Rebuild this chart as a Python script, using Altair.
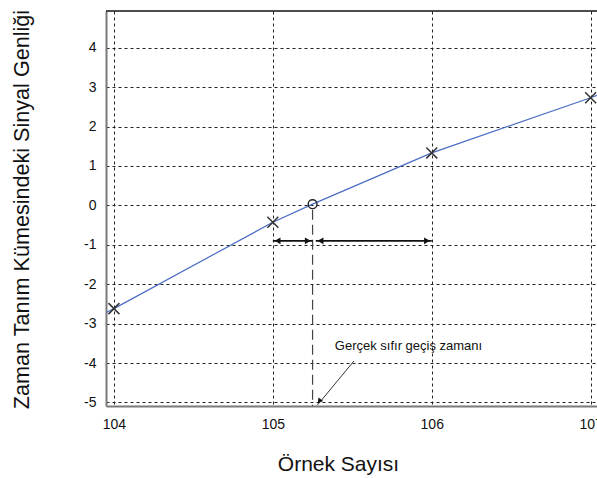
import altair as alt
import pandas as pd

# Sampled amplitudes at integer sample numbers
sample_idx = [104, 105, 106, 107]
sample_amp = [-2.62, -0.43, 1.33, 2.73]

# Continuous signal trace running through the samples to the frame edges
trace_x = [103.95, 104.0, 105.0, 105.25, 106.0, 107.0, 107.04]
trace_y = [-2.72, -2.62, -0.43, 0.03, 1.33, 2.73, 2.79]

# Estimated true zero crossing
zero_x = [105.25]
zero_y = [0.03]

# Double-headed distance arrows below the crossing
span_y = -0.90
span_start = [105.0, 105.27]
span_end = [105.25, 106.0]

# Annotation
note_text = ["Gerçek sıfır geçiş zamanı"]
note_x = [105.39]
note_y = [-3.57]
pointer_from = (105.51, -3.95)
pointer_to = (105.28, -5.07)

x_ticks = [104, 105, 106, 107]
y_ticks = [-5, -4, -3, -2, -1, 0, 1, 2, 3, 4]

X_DOM = [103.95, 107.04]
Y_DOM = [-5.09, 4.93]
FONT = "Liberation Sans"
W, H = 491, 395

xs = alt.Scale(domain=X_DOM, nice=False, zero=False)
ys = alt.Scale(domain=Y_DOM, nice=False, zero=False)

X = alt.X(
    "x:Q", scale=xs, title="Örnek Sayısı",
    axis=alt.Axis(values=x_ticks, labelExpr="'' + datum.value",
                  titleX=232, titleY=64, titleBaseline="alphabetic", titleFontSize=21),
)
Y = alt.Y(
    "y:Q", scale=ys, title="Zaman Tanım Kümesindeki Sinyal Genliği",
    axis=alt.Axis(values=y_ticks, labelExpr="'' + datum.value",
                  titleX=-84, titleY=198, titleBaseline="middle", titleFontSize=21.6),
)

trace_df = pd.DataFrame({"x": trace_x, "y": trace_y})
samples_df = pd.DataFrame({"x": sample_idx, "y": sample_amp})
zero_df = pd.DataFrame({"x": zero_x, "y": zero_y})

trace = alt.Chart(trace_df).mark_line(color="#4a6cc4", strokeWidth=1.2, clip=True).encode(
    x=X, y=Y
)

samples = alt.Chart(samples_df).mark_point(
    shape="M-1,-1L1,1M1,-1L-1,1", size=120, filled=False, color="#333333",
    strokeWidth=1.5, opacity=1, clip=True
).encode(x="x:Q", y="y:Q")

zero = alt.Chart(zero_df).mark_point(
    shape="circle", size=78, filled=False, color="#222222", strokeWidth=1.4, opacity=1
).encode(x="x:Q", y="y:Q")

# Dashed drop line from the zero crossing to the axis
drop_df = pd.DataFrame({"x": zero_x, "y": [zero_y[0] - 0.14], "y2": [Y_DOM[0]]})
drop = alt.Chart(drop_df).mark_rule(color="#444444", strokeWidth=1.2, strokeDash=[10, 5]).encode(
    x="x:Q", y="y:Q", y2="y2:Q"
)

span_df = pd.DataFrame({"x": span_start, "x2": span_end, "y": [span_y, span_y]})
spans = alt.Chart(span_df).mark_rule(color="#111111", strokeWidth=1.6).encode(
    x="x:Q", x2="x2:Q", y="y:Q"
)

heads_left = pd.DataFrame({"x": [s + 0.03 for s in span_start], "y": [span_y, span_y]})
heads_right = pd.DataFrame({"x": [e - 0.03 for e in span_end], "y": [span_y, span_y]})
hl = alt.Chart(heads_left).mark_point(
    shape="triangle-left", size=45, filled=True, color="#111111", opacity=1
).encode(x="x:Q", y="y:Q")
hr = alt.Chart(heads_right).mark_point(
    shape="triangle-right", size=45, filled=True, color="#111111", opacity=1
).encode(x="x:Q", y="y:Q")

pointer_df = pd.DataFrame({
    "x": [pointer_from[0]], "y": [pointer_from[1]],
    "x2": [pointer_to[0]], "y2": [pointer_to[1]],
})
pointer = alt.Chart(pointer_df).mark_rule(color="#333333", strokeWidth=1).encode(
    x="x:Q", y="y:Q", x2="x2:Q", y2="y2:Q"
)
pointer_head_df = pd.DataFrame({"x": [pointer_to[0] + 0.012], "y": [pointer_to[1] + 0.1]})
pointer_head = alt.Chart(pointer_head_df).mark_point(
    shape="triangle-up", angle=217, size=35, filled=True, color="#111111", opacity=1
).encode(x="x:Q", y="y:Q")

note_df = pd.DataFrame({"x": note_x, "y": note_y, "t": note_text})
note = alt.Chart(note_df).mark_text(
    align="left", baseline="middle", font=FONT, fontSize=13, color="#111111"
).encode(x="x:Q", y="y:Q", text="t:N")

# Top border of the frame (the right side stays open)
top_border = alt.Chart(pd.DataFrame({"k": [0]})).mark_rule(
    color="#111111", strokeWidth=1.6
).encode(x=alt.value(0), x2=alt.value(W), y=alt.value(0))

chart = alt.layer(
    trace, drop, spans, hl, hr, pointer, pointer_head, samples, zero, note, top_border
).properties(
    width=W, height=H,
    autosize=alt.AutoSizeParams(type="none"),
    padding={"left": 106, "top": 11, "right": 0, "bottom": 72},
    background="white",
).configure_view(
    strokeWidth=0
).configure_axis(
    grid=True, gridColor="#222222", gridDash=[3, 3], gridWidth=1, gridOpacity=1,
    domainColor="#7a7a7a", domainWidth=2,
    ticks=False, labelFont=FONT, labelFontSize=14, labelColor="#111111",
    titleFont=FONT, titleFontWeight="normal", titleColor="#111111",
).configure_axisY(
    labelPadding=10,
).configure_axisX(
    labelPadding=11,
)

chart.save("out.html", embed_options={"renderer": "svg", "actions": False})
